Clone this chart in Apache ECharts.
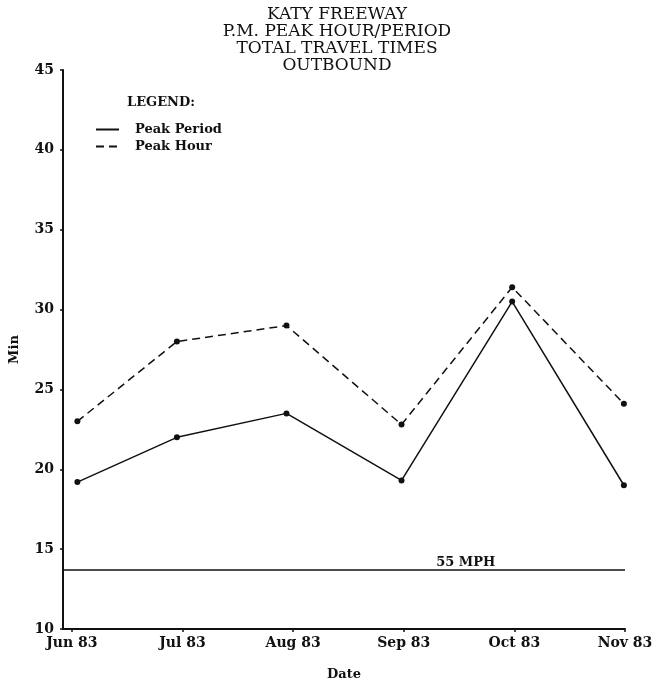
<!DOCTYPE html>
<html>
<head>
<meta charset="utf-8">
<script src="https://cdn.jsdelivr.net/npm/echarts@6/dist/echarts.min.js"></script>
<style>html,body{margin:0;padding:0;background:#fff}#c{width:668px;height:686px}</style>
</head>
<body>
<div id="c"></div>
<script>
// ---- data ----
const titleLines = ['KATY FREEWAY', 'P.M. PEAK HOUR/PERIOD', 'TOTAL TRAVEL TIMES', 'OUTBOUND'];
const months = ['Jun 83', 'Jul 83', 'Aug 83', 'Sep 83', 'Oct 83', 'Nov 83'];
const monthTicks = [0, 1, 2, 3, 4, 5];
// sample positions in months after the Jun 83 tick
const samplePos = [0.05, 0.95, 1.94, 2.98, 3.98, 4.99];
const peakPeriod = [19.2, 22.0, 23.5, 19.3, 30.5, 19.0];
const peakHour = [23.0, 28.0, 29.0, 22.8, 31.4, 24.1];
const speedLimitMin = 13.7;
const speedLimitLabel = '55 MPH';
const speedLabelPos = 3.56;

const serif = '"DejaVu Serif", "Liberation Serif", serif';
const pts = (ys) => ys.map((y, i) => [samplePos[i], y]);

const chart = echarts.init(document.getElementById('c'), null, { renderer: 'canvas' });
chart.setOption({
  backgroundColor: '#fff',
  animation: false,
  title: [{
    text: titleLines.join('\n'),
    left: 332, top: 1, textAlign: 'center',
    textStyle: { fontFamily: serif, fontSize: 17, fontWeight: 'normal', color: '#111', lineHeight: 17 }
  }, {
    text: 'LEGEND:',
    left: 122, top: 91,
    textStyle: { fontFamily: serif, fontSize: 13, fontWeight: 'bold', color: '#111' }
  }],
  legend: {
    orient: 'vertical', left: 90, top: 118,
    itemWidth: 23, itemHeight: 10, itemGap: 4,
    itemStyle: { opacity: 0 },
    textStyle: { fontFamily: serif, fontSize: 13, fontWeight: 'bold', color: '#111', padding: [0, 0, 0, 11] },
    data: ['Peak Period', 'Peak Hour']
  },
  grid: { left: 63, right: 43, top: 70, bottom: 53, containLabel: false },
  xAxis: {
    type: 'value', min: -0.08, max: 5,
    name: 'Date', nameLocation: 'middle', nameGap: 39,
    nameTextStyle: { fontFamily: serif, fontSize: 13, fontWeight: 'bold', color: '#111' },
    axisLine: { onZero: false, lineStyle: { color: '#111', width: 2 } },
    axisTick: { show: true, length: 3, lineStyle: { color: '#111', width: 1.5 }, customValues: monthTicks },
    axisLabel: { customValues: monthTicks, formatter: (v) => months[Math.round(v)], fontFamily: serif, fontSize: 14, fontWeight: 'bold', color: '#111', margin: 7 },
    splitLine: { show: false }
  },
  yAxis: {
    type: 'value', min: 10, max: 45, interval: 5,
    name: 'Min', nameLocation: 'middle', nameGap: 42,
    nameTextStyle: { fontFamily: serif, fontSize: 13, fontWeight: 'bold', color: '#111' },
    axisLine: { show: true, onZero: false, lineStyle: { color: '#111', width: 2 } },
    axisTick: { show: true, length: 3, lineStyle: { color: '#111', width: 1.5 } },
    axisLabel: { fontFamily: serif, fontSize: 14, fontWeight: 'bold', color: '#111', margin: 9 },
    splitLine: { show: false }
  },
  series: [{
    name: 'Peak Period', type: 'line', data: pts(peakPeriod),
    symbol: 'circle', symbolSize: 6,
    lineStyle: { color: '#111', width: 1.5, type: 'solid' },
    itemStyle: { color: '#111' },
    markLine: {
      silent: true, symbol: 'none',
      lineStyle: { color: '#111', width: 1.5, type: 'solid' },
      label: { show: false },
      data: [{ yAxis: speedLimitMin }]
    },
    markPoint: {
      silent: true, symbol: 'circle', symbolSize: 0,
      label: { show: true, position: 'top', distance: 1, formatter: speedLimitLabel, fontFamily: serif, fontSize: 13, fontWeight: 'bold', color: '#111' },
      data: [{ coord: [speedLabelPos, speedLimitMin] }]
    }
  }, {
    name: 'Peak Hour', type: 'line', data: pts(peakHour),
    symbol: 'circle', symbolSize: 6,
    lineStyle: { color: '#111', width: 1.5, type: [8, 5] },
    itemStyle: { color: '#111' }
  }]
});
</script>
</body>
</html>
